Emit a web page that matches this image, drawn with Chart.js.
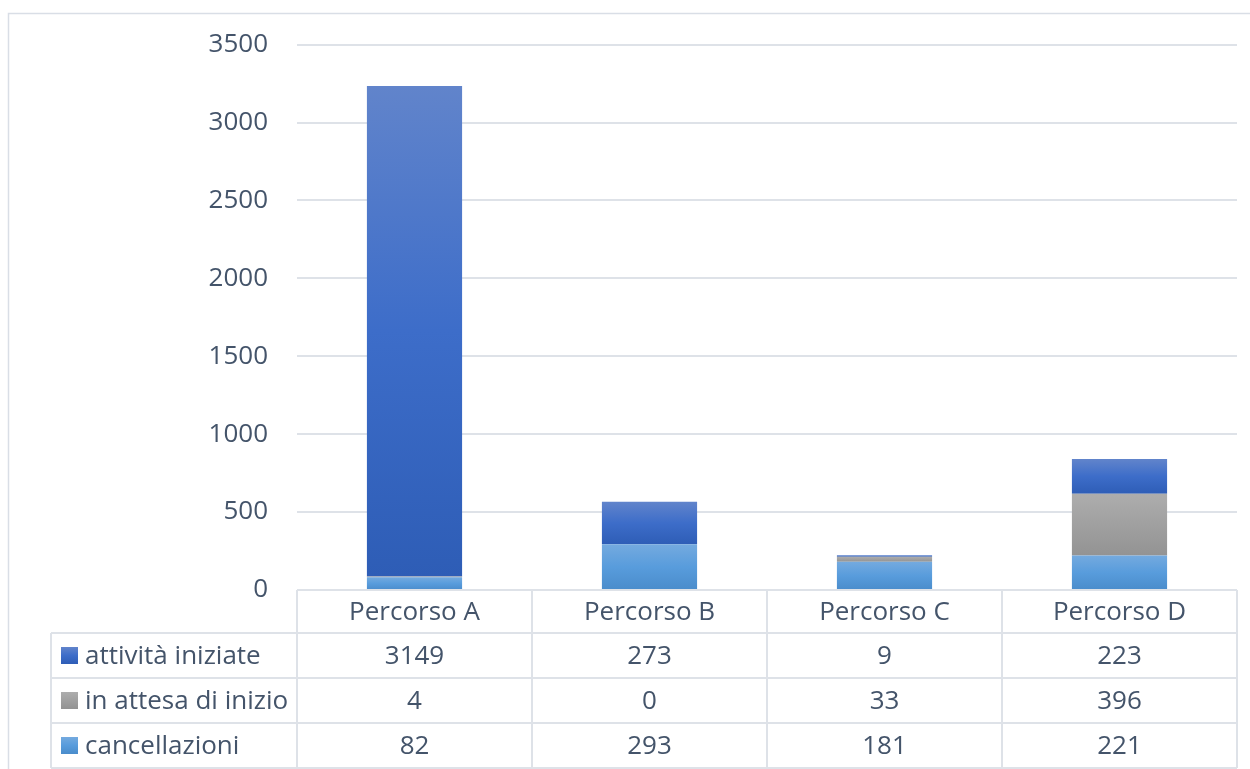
<!DOCTYPE html>
<html>
<head>
<meta charset="utf-8">
<script src="https://cdn.jsdelivr.net/npm/chart.js@4/dist/chart.umd.min.js"></script>
<style>
  html, body { margin: 0; padding: 0; background: #ffffff; }
  #wrap { position: relative; width: 1250px; height: 769px; }
</style>
</head>
<body>
<div id="wrap"><canvas id="c" width="1250" height="769"></canvas></div>
<script>
const categories = ['Percorso A', 'Percorso B', 'Percorso C', 'Percorso D'];
const seriesNames = ['cancellazioni', 'in attesa di inizio', 'attività iniziate'];
const cancellazioni = [82, 293, 181, 221];
const inAttesa = [4, 0, 33, 396];
const attivita = [3149, 273, 9, 223];
const yTicks = [0, 500, 1000, 1500, 2000, 2500, 3000, 3500];

const seriesValues = [cancellazioni, inAttesa, attivita];
const gradStops = [
  [[0, '#74AADF'], [0.5, '#589CDC'], [1, '#4A8CCB']],
  [[0, '#ADADAD'], [0.5, '#A0A0A0'], [1, '#939393']],
  [[0, '#6184CB'], [0.5, '#3D6DC9'], [1, '#2E5DB6']]
];
const TEXT = '#44546A';
const FONT = '"Open Sans", sans-serif';
const FSIZE = 26;
const LINE = '#DEE2E8';

function makeBg(si) {
  return function (ctx) {
    const chart = ctx.chart;
    const ys = chart.scales.y;
    if (!ys || ctx.type !== 'data') return gradStops[si][1][1];
    const i = ctx.dataIndex;
    let base = 0;
    for (let k = 0; k < si; k++) base += seriesValues[k][i];
    const top = base + seriesValues[si][i];
    const y0 = ys.getPixelForValue(top);
    const y1 = ys.getPixelForValue(base);
    if (!isFinite(y0) || !isFinite(y1) || Math.abs(y1 - y0) < 0.5) return gradStops[si][1][1];
    const g = chart.ctx.createLinearGradient(0, y0, 0, y1);
    gradStops[si].forEach(s => g.addColorStop(s[0], s[1]));
    return g;
  };
}

const datasets = seriesNames.map((name, si) => ({
  label: name,
  data: seriesValues[si],
  backgroundColor: makeBg(si),
  borderWidth: 0,
  barPercentage: 1,
  categoryPercentage: 0.405,
  stack: 's'
}));

const tablePlugin = {
  id: 'tablePlugin',
  beforeDraw(chart) {
    const c = chart.ctx;
    c.save();
    c.strokeStyle = '#D9DEE6';
    c.lineWidth = 1.5;
    c.beginPath();
    c.moveTo(8.5, 769); c.lineTo(8.5, 13.5); c.lineTo(1250, 13.5);
    c.stroke();
    c.restore();
  },
  afterDraw(chart) {
    const c = chart.ctx;
    const xs = chart.scales.x;
    const area = chart.chartArea;
    const n = categories.length;
    const cw = (area.right - area.left) / n;
    const top = area.bottom;
    const rowH = [43, 45, 45, 45];
    const rowY = [top];
    rowH.forEach(h => rowY.push(rowY[rowY.length - 1] + h));
    const tableLeft = 51;
    c.save();
    c.strokeStyle = LINE;
    c.lineWidth = 2;
    c.beginPath();
    for (let r = 1; r < rowY.length; r++) {
      c.moveTo(tableLeft, rowY[r]); c.lineTo(area.right, rowY[r]);
    }
    for (let k = 0; k <= n; k++) {
      const x = area.left + k * cw;
      c.moveTo(x, top); c.lineTo(x, rowY[rowY.length - 1]);
    }
    c.moveTo(tableLeft, rowY[1]); c.lineTo(tableLeft, rowY[rowY.length - 1]);
    c.stroke();

    c.fillStyle = TEXT;
    c.font = FSIZE + 'px ' + FONT;
    c.textAlign = 'center';
    c.textBaseline = 'middle';
    for (let i = 0; i < n; i++) {
      const cx = xs.getPixelForValue(i);
      c.fillText(categories[i], cx, (rowY[0] + rowY[1]) / 2 + 1);
    }
    for (let r = 0; r < seriesNames.length; r++) {
      const si = seriesNames.length - 1 - r;
      const yc = (rowY[r + 1] + rowY[r + 2]) / 2;
      const g = c.createLinearGradient(0, yc - 8.5, 0, yc + 8.5);
      gradStops[si].forEach(s => g.addColorStop(s[0], s[1]));
      c.fillStyle = g;
      c.fillRect(61, yc - 8.5, 17, 17);
      c.fillStyle = TEXT;
      c.textAlign = 'left';
      c.fillText(seriesNames[si], 85, yc + 1);
      c.textAlign = 'center';
      for (let i = 0; i < n; i++) {
        c.fillText(String(seriesValues[si][i]), xs.getPixelForValue(i), yc + 1);
      }
    }
    c.restore();
  }
};

new Chart(document.getElementById('c'), {
  type: 'bar',
  data: { labels: categories, datasets },
  options: {
    responsive: false,
    animation: false,
    layout: { padding: { left: 0, right: 13, top: 44, bottom: 179 } },
    plugins: { legend: { display: false }, tooltip: { enabled: false } },
    scales: {
      x: {
        stacked: true,
        display: false
      },
      y: {
        stacked: true,
        min: 0,
        max: 3500,
        afterBuildTicks(scale) { scale.ticks = yTicks.map(v => ({ value: v })); },
        afterFit(scale) { scale.width = 297; },
        border: { display: false },
        grid: { color: LINE, lineWidth: 2, drawTicks: false },
        ticks: {
          color: TEXT,
          font: { family: FONT, size: FSIZE },
          padding: 29,
          callback: (v) => String(v)
        }
      }
    }
  },
  plugins: [tablePlugin]
});
</script>
</body>
</html>
